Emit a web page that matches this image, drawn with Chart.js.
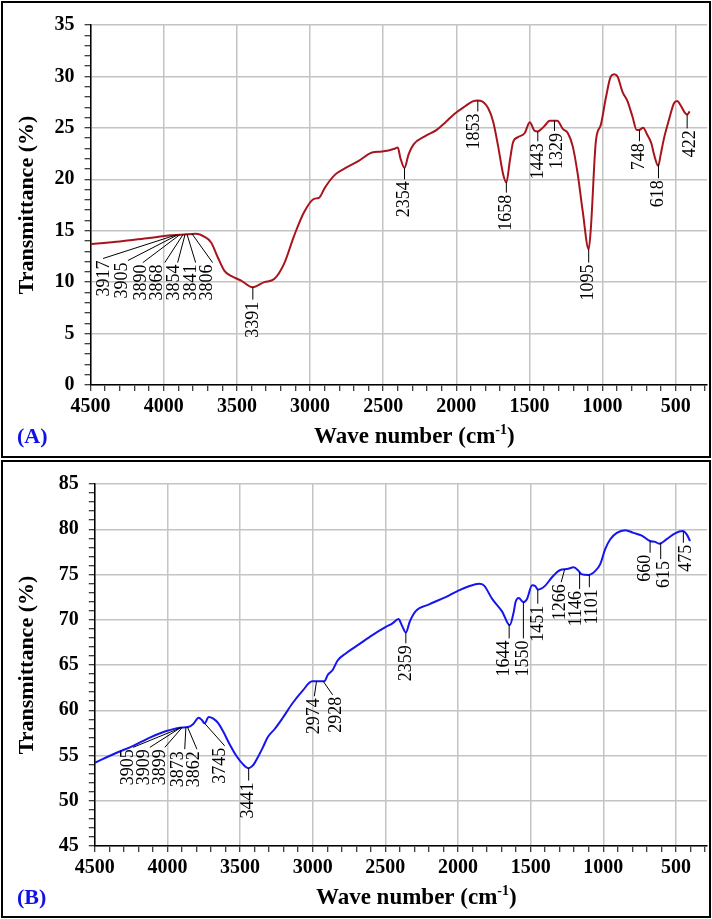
<!DOCTYPE html>
<html>
<head>
<meta charset="utf-8">
<script src="https://cdn.jsdelivr.net/npm/chart.js@4"></script>
<style>
  html, body { margin:0; padding:0; background:#fff; width:712px; height:919px; overflow:hidden; }
  .panel { position:absolute; left:1px; width:706px; border:2px solid #000; background:#fff; }
  #pa { top:1px; height:453px; }
  #pb { top:460px; height:454px; }
  canvas { display:block; }
</style>
</head>
<body>
<div class="panel" id="pa"><canvas id="ca" width="706" height="453"></canvas></div>
<div class="panel" id="pb"><canvas id="cb" width="706" height="454"></canvas></div>
<script>
// ---------- Panel A data ----------
const waveA = [4500,4300,4100,3950,3850,3780,3721,3676,3630,3585,3540,3471,3392,3313,3245,3177,3109,3041,2973,2939,2905,2893,2825,2757,2667,2576,2508,2417,2400,2383,2354,2327,2292,2213,2134,2077,2009,1940,1884,1853,1828,1782,1748,1714,1680,1658,1634,1612,1578,1532,1498,1464,1443,1430,1396,1362,1310,1272,1238,1204,1170,1136,1095,1080,1046,1012,978,944,921,898,864,830,796,767,750,723,694,667,648,620,603,580,546,512,490,463,434,422,405];
const transA = [13.7,13.95,14.3,14.55,14.65,14.7,14.4,13.86,12.4,11.1,10.6,10.15,9.5,10.0,10.3,11.8,14.5,16.8,18.1,18.2,19.0,19.3,20.5,21.1,21.8,22.6,22.7,23.0,23.1,22.1,21.1,22.4,23.4,24.2,24.8,25.5,26.4,27.1,27.6,27.65,27.6,26.9,25.6,23.2,20.5,19.7,21.8,23.6,24.1,24.5,25.55,24.7,24.65,24.75,25.2,25.7,25.7,24.9,24.5,23.2,20.5,16.9,13.2,15.3,23.7,25.3,27.9,30.0,30.2,30.0,28.5,27.6,26.1,24.8,24.8,25.0,24.3,23.5,22.4,21.3,22.4,24.0,25.8,27.4,27.6,27.1,26.4,26.3,26.6];
const peakTextA  = ["3917","3905","3890","3868","3854","3841","3806","3391","2354","1853","1658","1443","1329","1095","748","618","422"];
const markWaveA  = [3917,3905,3890,3868,3854,3841,3806,3391,2354,1853,1658,1443,1329,1095,748,618,422];
const lineEndWaveA = [4415,4245,4143,3993,3905,3782,3666,3391,2354,1853,1658,1443,1329,1095,748,618,422];
const textWaveA  = [4408,4286,4157,4041,3925,3809,3700,3391,2354,1875,1658,1443,1309,1095,748,618,404];
const labelTopA  = [12.3,12.1,11.9,11.9,11.9,11.9,11.9,8.3,20.0,26.6,18.7,23.7,24.7,11.9,23.7,20.1,24.95];
const yTicksA = [0,5,10,15,20,25,30,35];

// ---------- Panel B data ----------
const waveB = [4500,4350,4236,4121,4007,3915,3858,3824,3785,3762,3744,3716,3687,3652,3618,3572,3526,3481,3441,3412,3378,3343,3309,3263,3206,3138,3069,3004,2954,2920,2897,2863,2829,2771,2680,2589,2497,2451,2410,2387,2359,2332,2291,2199,2085,1994,1925,1856,1822,1765,1696,1644,1616,1604,1582,1550,1525,1490,1467,1451,1444,1398,1353,1296,1250,1204,1170,1151,1101,1055,1021,987,952,907,849,792,735,678,643,615,564,506,453,425,403];
const transB = [54.2,55.3,56.07,56.98,57.7,58.07,58.15,58.45,59.17,58.9,58.55,59.25,59.1,58.6,57.7,56.25,54.97,54.05,53.6,53.9,54.8,55.9,57.05,57.9,59.17,60.8,62.17,63.2,63.2,63.2,63.9,64.45,65.5,66.3,67.3,68.3,69.2,69.6,70.07,69.4,68.6,69.8,70.95,71.7,72.5,73.25,73.7,73.97,73.8,72.3,70.9,69.4,70.9,71.96,72.4,71.95,72.3,73.8,73.7,73.35,73.35,73.8,74.7,75.5,75.6,75.8,75.4,75.04,74.95,75.4,76.15,77.8,78.9,79.6,79.9,79.6,79.3,78.7,78.6,78.4,78.9,79.55,79.8,79.4,78.7];
const peakTextB  = ["3905","3909","3899","3873","3862","3745","3441","2974","2928","2359","1644","1550","1451","1266","1146","1101","660","615","475"];
const markWaveB  = [3905,3909,3899,3873,3862,3745,3441,2974,2928,2359,1648,1550,1451,1266,1163,1096,678,605,449];
const lineEndWaveB = [4236,4121,4018,3881,3797,3606,3441,2989,2863,2359,1648,1550,1451,1290,1163,1096,678,605,449];
const textWaveB  = [4270,4160,4052,3927,3812,3634,3441,2989,2840,2359,1685,1550,1451,1297,1187,1074,712,582,429];
const labelTopB  = [55.9,55.9,55.9,55.7,55.7,56.07,52.23,61.55,61.7,67.4,67.94,67.94,71.77,74.15,73.4,73.6,77.4,76.7,78.5];
const yTicksB = [45,50,55,60,65,70,75,80,85];

const xTicks = [4500,4000,3500,3000,2500,2000,1500,1000,500];
const xTitleMain = "Wave number (cm";
const xTitleSup = "-1";
const yTitle = "Transmittance (%)";

function interp(ws, ts, w) {
  for (let i = 0; i < ws.length - 1; i++) {
    const a = ws[i], b = ws[i+1];
    if ((w <= a && w >= b)) {
      const f = (a - w) / (a - b);
      return ts[i] + f * (ts[i+1] - ts[i]);
    }
  }
  return ts[ts.length - 1];
}

const SERIF = '"Liberation Serif", "Times New Roman", serif';

const annotPlugin = {
  id: 'annot',
  afterDraw(chart) {
    const o = chart.options.plugins.annot;
    const { ctx, chartArea } = chart;
    const x = chart.scales.x, y = chart.scales.y;
    ctx.save();
    ctx.strokeStyle = '#000';
    ctx.lineWidth = 1;
    ctx.fillStyle = '#000';
    ctx.font = '18px ' + SERIF;
    for (let i = 0; i < o.marks.length; i++) {
      const t0 = interp(o.waves, o.trans, o.marks[i]);
      const x0 = x.getPixelForValue(o.marks[i]);
      const y0 = y.getPixelForValue(t0);
      const x1 = x.getPixelForValue(o.lineEnd[i]);
      const y1 = y.getPixelForValue(o.labelTop[i]);
      const xt = x.getPixelForValue(o.textWave[i]);
      ctx.beginPath();
      ctx.moveTo(x0, y0);
      ctx.lineTo(x1, y1);
      ctx.stroke();
      ctx.save();
      ctx.translate(xt, y1 + 2);
      ctx.rotate(-Math.PI / 2);
      ctx.textAlign = 'right';
      ctx.textBaseline = 'middle';
      ctx.fillText(o.texts[i], 0, 0);
      ctx.restore();
    }
    ctx.save();
    ctx.font = 'bold 22px ' + SERIF;
    ctx.fillStyle = '#000';
    ctx.translate(o.yTitleX, (chartArea.top + chartArea.bottom) / 2);
    ctx.rotate(-Math.PI / 2);
    ctx.textAlign = 'center';
    ctx.textBaseline = 'middle';
    ctx.fillText(yTitle, 0, 0);
    ctx.restore();
    const cx = chartArea.left + (chartArea.right - chartArea.left) * 0.525;
    const ty = o.xTitleY;
    ctx.font = 'bold 23px ' + SERIF;
    const w1 = ctx.measureText(xTitleMain).width;
    const w3 = ctx.measureText(')').width;
    ctx.font = 'bold 14px ' + SERIF;
    const w2 = ctx.measureText(xTitleSup).width;
    let sx = cx - (w1 + w2 + w3) / 2;
    ctx.textBaseline = 'alphabetic';
    ctx.textAlign = 'left';
    ctx.fillStyle = '#000';
    ctx.font = 'bold 23px ' + SERIF;
    ctx.fillText(xTitleMain, sx, ty);
    ctx.font = 'bold 14px ' + SERIF;
    ctx.fillText(xTitleSup, sx + w1, ty - 9);
    ctx.font = 'bold 23px ' + SERIF;
    ctx.fillText(')', sx + w1 + w2, ty);
    ctx.fillStyle = '#1010e8';
    ctx.font = 'bold 22px ' + SERIF;
    ctx.fillText(o.tag, 14, ty);
    ctx.restore();
  }
};

function makeChart(id, waves, trans, color, yMin, yMax, yTicks, marks, texts, lineEnd, textWave, labelTop, tag, dims) {
  const minorX = [];
  for (let v = 4500; v >= 300; v -= 100) minorX.push(v);
  const minorY = [];
  for (let v = yMin; v <= yMax; v += 1) minorY.push(v);
  return new Chart(document.getElementById(id), {
    type: 'line',
    data: {
      datasets: [{
        data: waves.map((w, i) => ({ x: w, y: trans[i] })),
        borderColor: color,
        borderWidth: 2,
        pointRadius: 0,
        cubicInterpolationMode: 'monotone',
        fill: false
      }]
    },
    options: {
      responsive: false,
      animation: false,
      events: [],
      layout: { padding: { top: dims.top, right: 0, left: 0, bottom: 0 } },
      plugins: {
        legend: { display: false },
        tooltip: { enabled: false },
        annot: { waves, trans, marks, texts, lineEnd, textWave, labelTop, tag, yTitleX: dims.yTitleX, xTitleY: dims.xTitleY }
      },
      scales: {
        x: {
          type: 'linear',
          reverse: true,
          min: 285,
          max: 4500,
          afterBuildTicks: s => { s.ticks = minorX.map(v => ({ value: v })); },
          afterFit: s => { s.height = dims.xh; },
          ticks: {
            autoSkip: false,
            maxRotation: 0,
            color: '#000',
            padding: 4,
            font: { family: SERIF, size: 20, weight: 'bold' },
            callback: v => xTicks.includes(v) ? String(v) : ''
          },
          grid: {
            color: c => (c.tick && xTicks.includes(c.tick.value)) ? '#c4c4c4' : 'rgba(0,0,0,0)',
            lineWidth: 1.5,
            tickColor: '#000',
            tickLength: 6,
            tickWidth: 1
          },
          border: { color: '#000', width: 1.5 }
        },
        y: {
          type: 'linear',
          min: yMin,
          max: yMax,
          afterBuildTicks: s => { s.ticks = minorY.map(v => ({ value: v })); },
          afterFit: s => { s.width = dims.yw; },
          ticks: {
            autoSkip: false,
            color: '#000',
            padding: 10,
            font: { family: SERIF, size: 20, weight: 'bold' },
            callback: v => yTicks.includes(v) ? String(v) : ''
          },
          grid: {
            color: c => (c.tick && yTicks.includes(c.tick.value)) ? '#c4c4c4' : 'rgba(0,0,0,0)',
            lineWidth: 1.5,
            tickColor: '#000',
            tickLength: 6,
            tickWidth: 1
          },
          border: { color: '#000', width: 1.5 }
        }
      }
    },
    plugins: [annotPlugin]
  });
}

makeChart('ca', waveA, transA, '#a8141e', 0, 35, yTicksA, markWaveA, peakTextA, lineEndWaveA, textWaveA, labelTopA, '(A)',
  { top: 20, yw: 87.6, xh: 71, yTitleX: 24, xTitleY: 440 });
makeChart('cb', waveB, transB, '#1515f0', 45, 85, yTicksB, markWaveB, peakTextB, lineEndWaveB, textWaveB, labelTopB, '(B)',
  { top: 19, yw: 91.8, xh: 70, yTitleX: 24, xTitleY: 442 });
</script>
</body>
</html>
